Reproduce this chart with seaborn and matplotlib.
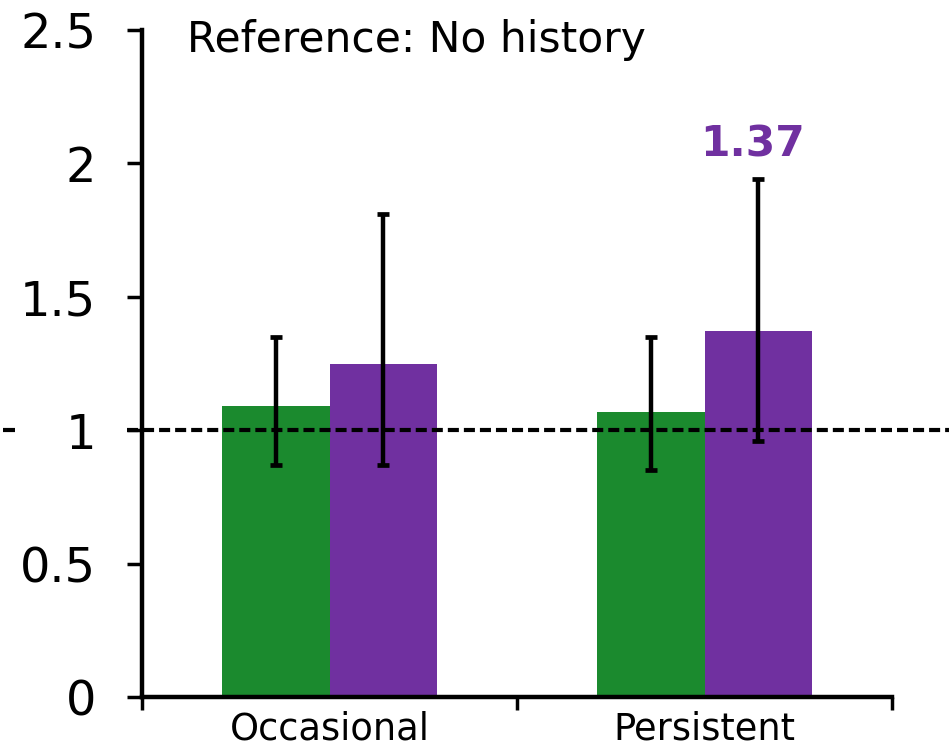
import matplotlib
matplotlib.use("Agg")
import matplotlib.pyplot as plt
import seaborn as sns
import pandas as pd

# Data
categories = ["Occasional", "Persistent"]
groups = ["A", "B"]
values_a = [1.09, 1.07]
values_b = [1.25, 1.37]
lower_a = [0.87, 0.85]
upper_a = [1.35, 1.35]
lower_b = [0.87, 0.96]
upper_b = [1.81, 1.94]
highlight_value = 1.37
y_ticks = [0, 0.5, 1, 1.5, 2, 2.5]
y_tick_labels = ["0", "0.5", "1", "1.5", "2", "2.5"]
reference_level = 1
title_text = "Reference: No history"

green = "#1B8A2E"
purple = "#7030A0"

sns.set_theme(style="white")
plt.rcParams["font.family"] = ["DejaVu Sans"]
plt.rcParams["text.color"] = "black"
plt.rcParams["xtick.color"] = "black"
plt.rcParams["ytick.color"] = "black"

df = pd.DataFrame({
    "cat": categories * 2,
    "grp": [groups[0]] * 2 + [groups[1]] * 2,
    "val": values_a + values_b,
})

fig = plt.figure(figsize=(9.49, 7.48), dpi=100)
ax = fig.add_axes([142 / 949, 51 / 748, 750 / 949, 667 / 748])

sns.barplot(data=df, x="cat", y="val", hue="grp", palette=[green, purple],
            width=0.575, gap=0, saturation=1, errorbar=None, legend=False,
            linewidth=0, ax=ax, zorder=2)

# Error bars at bar centres
bars = ax.patches
centres = [b.get_x() + b.get_width() / 2 for b in bars]
heights = [b.get_height() for b in bars]
lows = lower_a + lower_b
highs = upper_a + upper_b
yerr = [[h - l for h, l in zip(heights, lows)], [u - h for h, u in zip(heights, highs)]]
ax.errorbar(centres, heights, yerr=yerr, fmt="none", ecolor="black",
            elinewidth=3.2, capsize=4.5, capthick=3.4, zorder=4)

# Reference line at 1
trans = ax.get_yaxis_transform()
ax.plot([-0.185, -0.169], [reference_level] * 2, transform=trans, color="black",
        lw=3, clip_on=False, zorder=3, solid_capstyle="butt")
ax.plot([-0.02, 1.08], [reference_level] * 2, transform=trans, color="black",
        lw=3, ls=(0, (2.65, 1.2)), clip_on=False, zorder=3)

# Highlighted value label
idx = len(values_a) + values_b.index(highlight_value)
ax.annotate(f"{highlight_value:.2f}", xy=(centres[idx], highs[idx]),
            xytext=(-4, 10), textcoords="offset points", ha="center", va="bottom",
            fontsize=30.5, fontweight="bold", color=purple)

ax.set_xlim(-0.5, 1.5)
ax.set_ylim(0, 2.5)
ax.set_yticks(y_ticks)
ax.set_yticklabels(y_tick_labels)
ax.set_xticks([0, 1])
ax.set_xticklabels(categories)
ax.set_xticks([-0.5, 0.5, 1.5], minor=True)
ax.set_xlabel("")
ax.set_ylabel("")

ax.tick_params(axis="y", which="major", length=11, width=2.5, labelsize=34.5,
               pad=22, direction="out", left=True, color="black", labelcolor="black")
ax.tick_params(axis="x", which="major", length=0, labelsize=26.5, pad=10,
               labelcolor="black")
ax.tick_params(axis="x", which="minor", length=9, width=2.5, direction="out",
               bottom=True, color="black")

for s in ["top", "right"]:
    ax.spines[s].set_visible(False)
for s in ["left", "bottom"]:
    ax.spines[s].set_linewidth(3.2)
    ax.spines[s].set_color("black")
    ax.spines[s].set_zorder(5)

fig.text(187 / 949, 1 - 52 / 748, title_text, fontsize=30.5, ha="left",
         va="baseline", color="black")

fig.savefig("out.png", dpi=100)
